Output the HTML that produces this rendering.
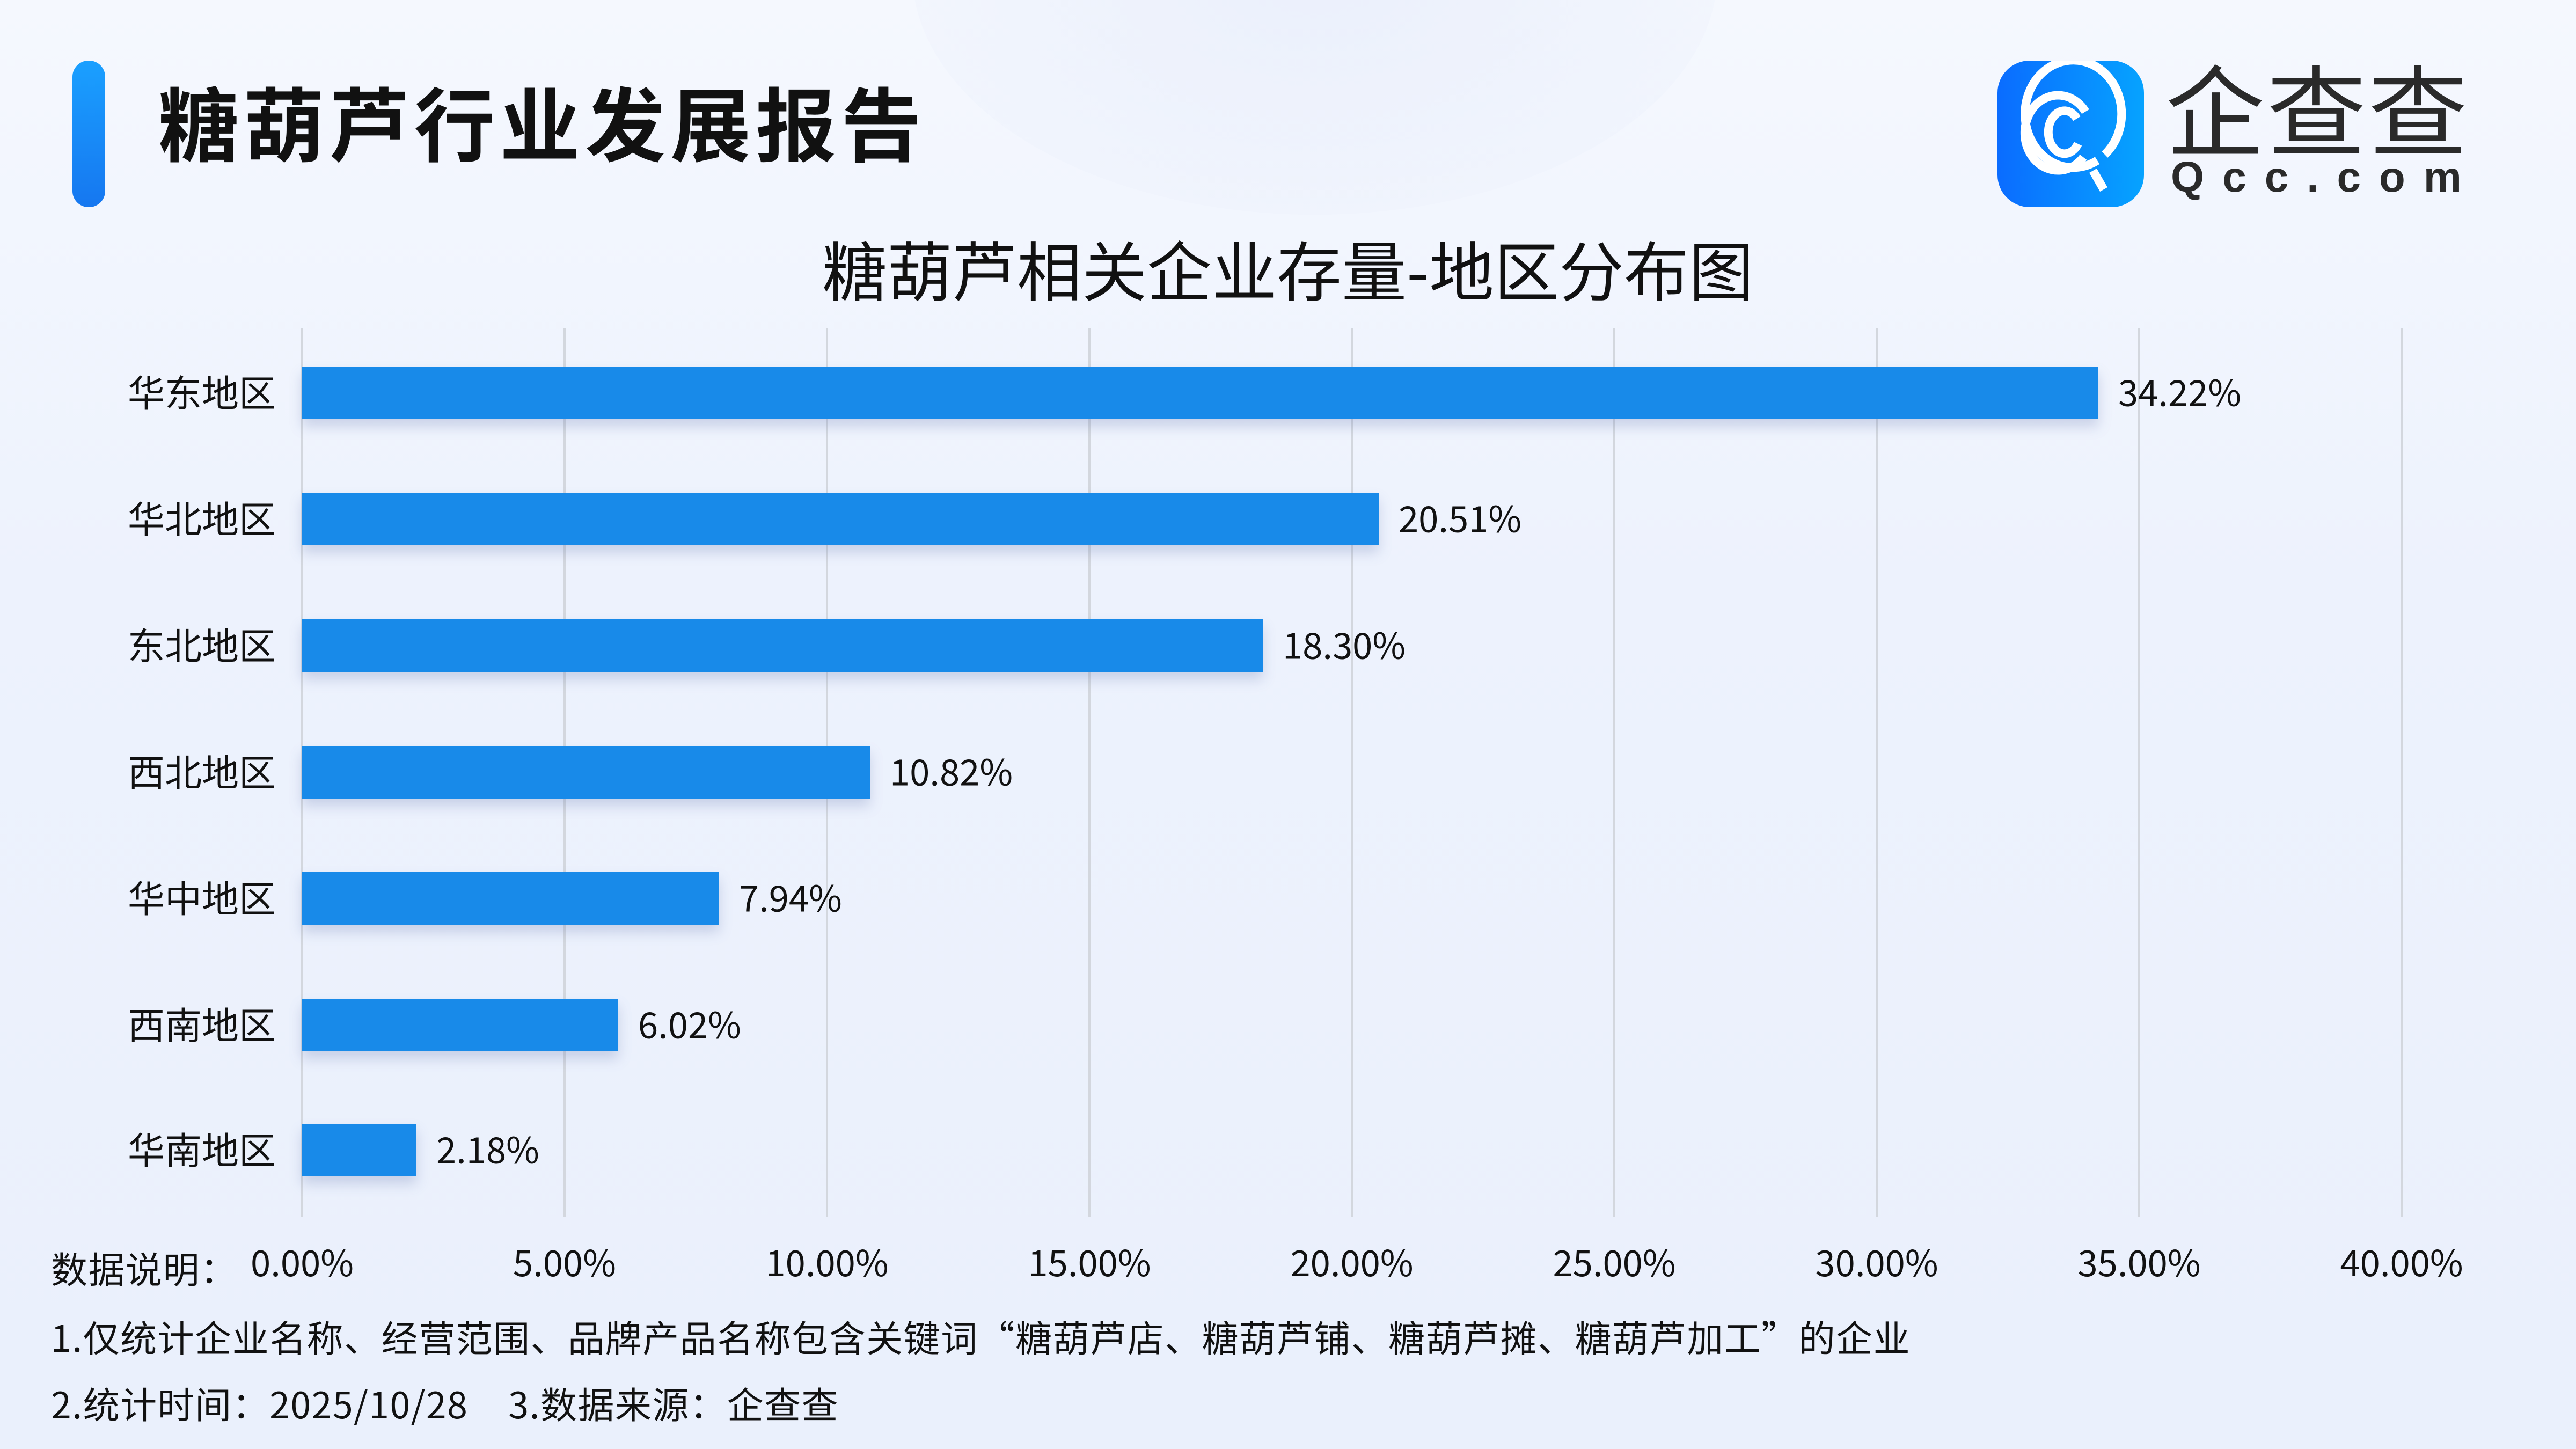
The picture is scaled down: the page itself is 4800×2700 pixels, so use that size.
<!DOCTYPE html>
<html><head><meta charset="utf-8">
<style>
html,body{margin:0;padding:0}
body{width:4800px;height:2700px;position:relative;overflow:hidden;
background:linear-gradient(180deg,#f5f8fe 0%,#edf2fd 40%,#eaf0fc 100%);
font-family:"Noto Sans CJK SC","Liberation Sans",sans-serif;color:#111}
.abs{position:absolute}
.lbl{position:absolute;right:4286px;font-size:69px;line-height:1;transform:translateY(-56%);white-space:nowrap}
.bar{position:absolute;left:563px;height:98px;background:#188ae9;box-shadow:0 14px 22px rgba(90,110,170,0.25)}
.val{position:absolute;font-size:67px;line-height:1;transform:translateY(-56%);white-space:nowrap}
.grid{position:absolute;top:612px;height:1655px;width:4px;background:#d3d7de}
.tick{position:absolute;top:2316px;font-size:67px;line-height:1;transform:translateX(-50%);white-space:nowrap}
.note{position:absolute;left:95px;font-size:68px;line-height:1;white-space:nowrap;letter-spacing:1.5px}
</style></head><body>
<div class="abs" style="left:1700px;top:-500px;width:1500px;height:900px;border-radius:50%;background:radial-gradient(ellipse,rgba(228,234,250,0.6),rgba(240,244,253,0))"></div>
<div class="abs" style="left:135px;top:113px;width:61px;height:273px;border-radius:30px;background:linear-gradient(180deg,#1aa0ff,#1677f0)"></div>
<div class="abs" style="left:295px;top:150px;font-size:150px;font-weight:bold;line-height:1;letter-spacing:9px">糖葫芦行业发展报告</div>
<svg class="abs" style="left:3722px;top:113px" width="273" height="273" viewBox="0 0 273 273">
<defs><linearGradient id="g" x1="0" x2="1"><stop offset="0" stop-color="#0a6cff"/><stop offset="1" stop-color="#06a3ff"/></linearGradient></defs>
<rect width="273" height="273" rx="60" fill="url(#g)"/>
<g fill="none" stroke="#fff" stroke-width="16" stroke-linecap="butt">
<path d="M186 186 A90 100 0 1 1 200 175"/>
<path d="M160 180 A62 70 0 1 1 164 95"/>
<path d="M150 155 A30 40 0 1 1 148 108"/>
<path d="M178 205 L198 240"/>
</g></svg>
<div class="abs" style="left:4035px;top:105px;font-size:185px;line-height:1;color:#2a2a2a;letter-spacing:4px">企查查</div>
<div class="abs" style="left:4045px;top:290px;font-size:80px;line-height:1;color:#2a2a2a;letter-spacing:34px;font-weight:bold;font-family:'Liberation Sans',sans-serif">Qcc.com</div>
<div class="abs" style="left:0;width:4800px;top:438px;text-align:center;font-size:121px;line-height:1">糖葫芦相关企业存量-地区分布图</div>

<div class="grid" style="left:561px"></div>
<div class="grid" style="left:1050px"></div>
<div class="grid" style="left:1539px"></div>
<div class="grid" style="left:2028px"></div>
<div class="grid" style="left:2517px"></div>
<div class="grid" style="left:3006px"></div>
<div class="grid" style="left:3495px"></div>
<div class="grid" style="left:3984px"></div>
<div class="grid" style="left:4473px"></div>

<div class="bar" style="top:683px;width:3347px"></div>
<div class="bar" style="top:918px;width:2006px"></div>
<div class="bar" style="top:1154px;width:1790px"></div>
<div class="bar" style="top:1390px;width:1058px"></div>
<div class="bar" style="top:1625px;width:777px"></div>
<div class="bar" style="top:1861px;width:589px"></div>
<div class="bar" style="top:2094px;width:213px"></div>

<div class="lbl" style="top:732px">华东地区</div>
<div class="lbl" style="top:967px">华北地区</div>
<div class="lbl" style="top:1203px">东北地区</div>
<div class="lbl" style="top:1439px">西北地区</div>
<div class="lbl" style="top:1674px">华中地区</div>
<div class="lbl" style="top:1910px">西南地区</div>
<div class="lbl" style="top:2143px">华南地区</div>

<div class="val" style="left:3947px;top:732px">34.22%</div>
<div class="val" style="left:2606px;top:967px">20.51%</div>
<div class="val" style="left:2390px;top:1203px">18.30%</div>
<div class="val" style="left:1658px;top:1439px">10.82%</div>
<div class="val" style="left:1377px;top:1674px">7.94%</div>
<div class="val" style="left:1189px;top:1910px">6.02%</div>
<div class="val" style="left:813px;top:2143px">2.18%</div>

<div class="tick" style="left:563px">0.00%</div>
<div class="tick" style="left:1052px">5.00%</div>
<div class="tick" style="left:1541px">10.00%</div>
<div class="tick" style="left:2030px">15.00%</div>
<div class="tick" style="left:2519px">20.00%</div>
<div class="tick" style="left:3008px">25.00%</div>
<div class="tick" style="left:3497px">30.00%</div>
<div class="tick" style="left:3986px">35.00%</div>
<div class="tick" style="left:4475px">40.00%</div>

<div class="note" style="top:2328px">数据说明：</div>
<div class="note" style="top:2456px">1.仅统计企业名称、经营范围、品牌产品名称包含关键词“糖葫芦店、糖葫芦铺、糖葫芦摊、糖葫芦加工”的企业</div>
<div class="note" style="top:2580px">2.统计时间：2025/10/28<span style="display:inline-block;width:75px"></span>3.数据来源：企查查</div>
</body></html>
